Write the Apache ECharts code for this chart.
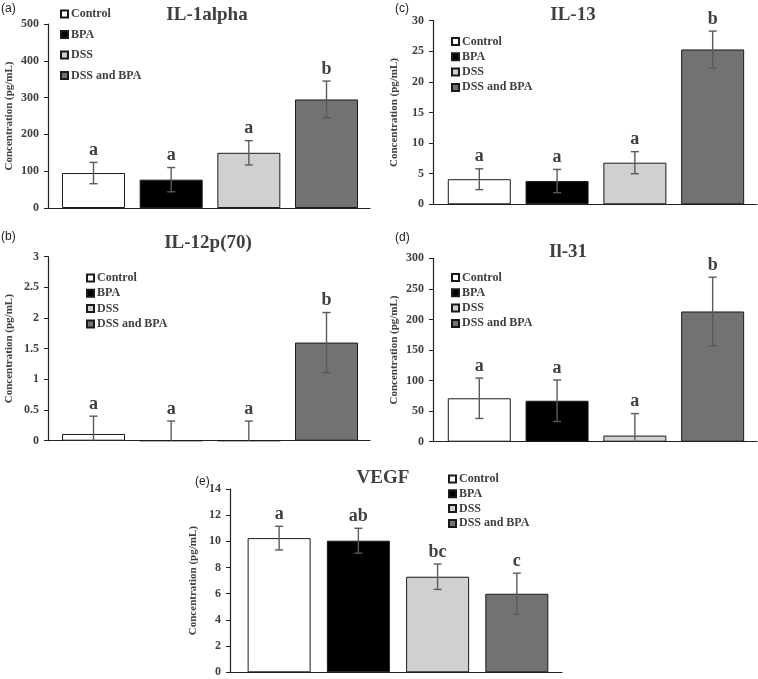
<!DOCTYPE html>
<html>
<head>
<meta charset="utf-8">
<script src="https://cdn.jsdelivr.net/npm/echarts@6/dist/echarts.min.js"></script>
<style>html,body{margin:0;padding:0;background:#fff;}#chart{width:758px;height:679px;}</style>
</head>
<body>
<div id="chart"></div>
<script>
// ---- data ----
const groups = ['Control', 'BPA', 'DSS', 'DSS and BPA'];

const il1Mean = [95, 77, 150, 295];
const il1Err = [29, 33, 33, 50];
const il1Letters = ['a', 'a', 'a', 'b'];
const il1Ticks = [0, 500, 100];

const il12Mean = [0.11, 0, 0, 1.6];
const il12Err = [0.29, 0.32, 0.32, 0.49];
const il12Letters = ['a', 'a', 'a', 'b'];
const il12Ticks = [0, 3, 0.5];

const il13Mean = [4.1, 3.8, 6.8, 25.3];
const il13Err = [1.7, 1.9, 1.8, 3.0];
const il13Letters = ['a', 'a', 'a', 'b'];
const il13Ticks = [0, 30, 5];

const il31Mean = [71, 67, 10, 213];
const il31Err = [33, 34, 36, 56];
const il31Letters = ['a', 'a', 'a', 'b'];
const il31Ticks = [0, 300, 50];

const vegfMean = [10.25, 10.05, 7.3, 6.0];
const vegfErr = [0.9, 0.95, 0.97, 1.57];
const vegfLetters = ['a', 'ab', 'bc', 'c'];
const vegfTicks = [0, 14, 2];

const titles = ['IL-1alpha', 'IL-12p(70)', 'IL-13', 'Il-31', 'VEGF'];
const panelLabels = ['(a)', '(b)', '(c)', '(d)', '(e)'];
const yName = 'Concentration (pg/mL)';

// ---- layout / style ----
const SERIF = "'Liberation Serif','Times New Roman',serif";
const TXT = '#404040';
const barColors = ['#ffffff', '#000000', '#d0d0d0', '#727272'];

const panels = [
  {mean: il1Mean, err: il1Err, letters: il1Letters, ticks: il1Ticks,
   grid: {left: 48, top: 24, width: 322, height: 184}, xr: [-0.586, 3.56], barW: 63,
   title: [207, 15], label: [1, 9], legend: {left: 60, top: 8, gap: 8.5}, nameGap: 33},
  {mean: il12Mean, err: il12Err, letters: il12Letters, ticks: il12Ticks,
   grid: {left: 48, top: 256.7, width: 322, height: 184}, xr: [-0.586, 3.56], barW: 63,
   title: [208, 243], label: [1, 237], legend: {left: 86, top: 272, gap: 3.3}, nameGap: 33},
  {mean: il13Mean, err: il13Err, letters: il13Letters, ticks: il13Ticks,
   grid: {left: 433, top: 20.7, width: 324, height: 183.6}, xr: [-0.595, 3.57], barW: 63,
   title: [573, 15], label: [395, 9], legend: {left: 451, top: 35.5, gap: 3.3}, nameGap: 33},
  {mean: il31Mean, err: il31Err, letters: il31Letters, ticks: il31Ticks,
   grid: {left: 433, top: 258.3, width: 324, height: 183.4}, xr: [-0.595, 3.57], barW: 63,
   title: [568, 252], label: [395, 238], legend: {left: 451, top: 271.5, gap: 3.3}, nameGap: 33},
  {mean: vegfMean, err: vegfErr, letters: vegfLetters, ticks: vegfTicks,
   grid: {left: 230, top: 489, width: 332, height: 183.3}, xr: [-0.62, 3.57], barW: 63,
   title: [383, 478], label: [195, 482], legend: {left: 448, top: 473, gap: 2.8}, nameGap: 31}
];

const option = {
  animation: false,
  backgroundColor: '#ffffff',
  grid: panels.map(p => Object.assign({containLabel: false}, p.grid)),
  xAxis: panels.map((p, k) => ({
    type: 'value', gridIndex: k, min: p.xr[0], max: p.xr[1],
    axisLine: {show: true, onZero: true, lineStyle: {color: '#222', width: 1.2}},
    axisTick: {show: false}, axisLabel: {show: false}, splitLine: {show: false}
  })),
  yAxis: panels.map((p, k) => ({
    type: 'value', gridIndex: k, min: p.ticks[0], max: p.ticks[1], interval: p.ticks[2],
    name: yName, nameLocation: 'middle', nameRotate: 90, nameGap: p.nameGap,
    nameTextStyle: {fontFamily: SERIF, fontWeight: 'bold', fontSize: 11, color: TXT},
    axisLine: {show: true, onZero: false, lineStyle: {color: '#222', width: 1.2}},
    axisTick: {show: true, inside: false, length: 4, lineStyle: {color: '#222'}},
    axisLabel: {fontFamily: SERIF, fontWeight: 'bold', fontSize: 12, color: TXT, margin: 9},
    splitLine: {show: false}
  })),
  legend: panels.map(p => ({
    data: groups, orient: 'vertical', left: p.legend.left, top: p.legend.top,
    itemGap: p.legend.gap, itemWidth: 7, itemHeight: 7, icon: 'rect',
    selectedMode: false, padding: 0,
    textStyle: {fontFamily: SERIF, fontWeight: 'bold', fontSize: 12, color: TXT, padding: [0, 0, 0, -2]}
  })),
  graphic: [],
  series: []
};

panels.forEach((p, k) => {
  option.graphic.push({type: 'text', x: p.title[0], y: p.title[1],
    style: {text: titles[k], fontFamily: SERIF, fontWeight: 'bold', fontSize: 19, fill: TXT,
      align: 'center', verticalAlign: 'middle'}});
  option.graphic.push({type: 'text', x: p.label[0], y: p.label[1],
    style: {text: panelLabels[k], fontFamily: "'Liberation Sans',Arial,sans-serif", fontSize: 12, fill: '#222',
      align: 'left', verticalAlign: 'middle'}});
  groups.forEach((g, i) => {
    option.series.push({
      name: g, type: 'bar', xAxisIndex: k, yAxisIndex: k,
      data: [[i, p.mean[i]]], barWidth: p.barW, barGap: '-100%',
      itemStyle: {color: barColors[i], borderColor: '#1a1a1a', borderWidth: 1},
      z: 2
    });
  });
  const letters = p.letters;
  option.series.push({
    type: 'custom', xAxisIndex: k, yAxisIndex: k, z: 5, clip: false,
    data: p.mean.map((m, i) => [i, m, p.err[i]]),
    renderItem: function (params, api) {
      const x = api.value(0), m = api.value(1), e = api.value(2);
      const lo = Math.max(0, m - e), hi = m + e;
      const top = api.coord([x, hi]);
      const bot = api.coord([x, lo]);
      const cw = 4;
      const st = {stroke: '#5a5a5a', lineWidth: 1.4};
      const children = [
        {type: 'line', shape: {x1: top[0], y1: top[1], x2: bot[0], y2: bot[1]}, style: st},
        {type: 'line', shape: {x1: top[0] - cw, y1: top[1], x2: top[0] + cw, y2: top[1]}, style: st}
      ];
      if (m - e > 0) {
        children.push({type: 'line', shape: {x1: bot[0] - cw, y1: bot[1], x2: bot[0] + cw, y2: bot[1]}, style: st});
      }
      children.push({type: 'text', x: top[0], y: top[1] - 3,
        style: {text: letters[params.dataIndex], fontFamily: SERIF, fontWeight: 'bold', fontSize: 18,
          fill: TXT, align: 'center', verticalAlign: 'bottom'}});
      return {type: 'group', children: children};
    }
  });
});

const chart = echarts.init(document.getElementById('chart'), null, {renderer: 'canvas'});
chart.setOption(option);
</script>
</body>
</html>
